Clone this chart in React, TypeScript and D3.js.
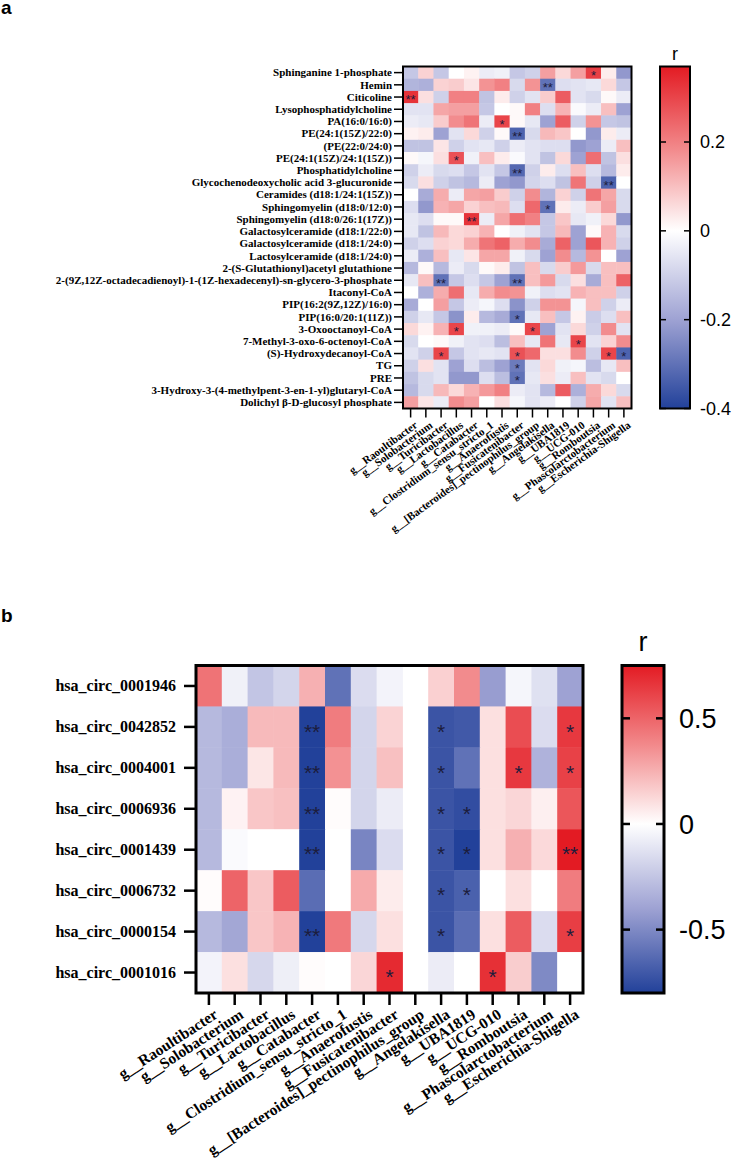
import React from "react";
import * as d3 from "d3";

// ---------- shared column categories (bacterial genera) ----------
const genera = [
  "g__Raoultibacter",
  "g__Solobacterium",
  "g__Turicibacter",
  "g__Lactobacillus",
  "g__Catabacter",
  "g__Clostridium_sensu_stricto_1",
  "g__Anaerofustis",
  "g__Fusicatenibacter",
  "g__[Bacteroides]_pectinophilus_group",
  "g__Angelakisella",
  "g__UBA1819",
  "g__UCG-010",
  "g__Romboutsia",
  "g__Phascolarctobacterium",
  "g__Escherichia-Shigella",
];

// ---------- panel a: metabolites vs genera ----------
const metabolites = [
  "Sphinganine 1-phosphate",
  "Hemin",
  "Citicoline",
  "Lysophosphatidylcholine",
  "PA(16:0/16:0)",
  "PE(24:1(15Z)/22:0)",
  "(PE(22:0/24:0)",
  "PE(24:1(15Z)/24:1(15Z))",
  "Phosphatidylcholine",
  "Glycochenodeoxycholic acid 3-glucuronide",
  "Ceramides (d18:1/24:1(15Z))",
  "Sphingomyelin (d18:0/12:0)",
  "Sphingomyelin (d18:0/26:1(17Z))",
  "Galactosylceramide (d18:1/22:0)",
  "Galactosylceramide (d18:1/24:0)",
  "Lactosylceramide (d18:1/24:0)",
  "2-(S-Glutathionyl)acetyl glutathione",
  "2-(9Z,12Z-octadecadienoyl)-1-(1Z-hexadecenyl)-sn-glycero-3-phosphate",
  "Itaconyl-CoA",
  "PIP(16:2(9Z,12Z)/16:0)",
  "PIP(16:0/20:1(11Z))",
  "3-Oxooctanoyl-CoA",
  "7-Methyl-3-oxo-6-octenoyl-CoA",
  "(S)-Hydroxydecanoyl-CoA",
  "TG",
  "PRE",
  "3-Hydroxy-3-(4-methylpent-3-en-1-yl)glutaryl-CoA",
  "Dolichyl β-D-glucosyl phosphate",
];

const metaboliteR: number[][] = [
  [-0.12, 0.07, -0.12, 0.0, 0.02, -0.04, -0.03, -0.12, -0.1, 0.15, 0.06, 0.15, 0.31, 0.03, -0.22],
  [-0.16, -0.17, 0.07, 0.08, 0.04, 0.17, 0.2, -0.08, 0.17, -0.3, -0.07, -0.06, -0.05, 0.06, -0.12],
  [0.33, 0.05, -0.1, 0.2, 0.2, -0.13, 0.03, -0.1, -0.06, 0.08, 0.26, -0.06, -0.08, 0.01, -0.04],
  [-0.06, -0.06, 0.14, 0.15, 0.15, -0.12, 0.0, 0.01, 0.2, -0.07, 0.12, -0.01, -0.04, 0.1, -0.2],
  [-0.04, -0.05, 0.08, 0.18, 0.22, -0.04, 0.3, 0.01, -0.05, -0.2, 0.26, -0.1, 0.17, -0.12, -0.13],
  [0.02, 0.03, -0.2, -0.06, 0.06, -0.1, 0.01, -0.33, -0.08, 0.11, 0.09, 0.0, -0.22, 0.03, -0.04],
  [-0.13, -0.13, 0.04, -0.1, -0.06, -0.05, -0.1, -0.04, -0.06, -0.07, -0.07, -0.22, -0.2, -0.04, 0.1],
  [0.01, -0.02, 0.05, 0.28, -0.03, 0.1, 0.03, -0.01, -0.06, -0.13, 0.06, -0.2, 0.23, -0.13, 0.05],
  [-0.1, -0.04, -0.08, -0.07, -0.12, -0.06, -0.12, -0.32, -0.1, 0.03, -0.07, 0.1, -0.07, -0.15, 0.03],
  [-0.08, 0.05, -0.1, -0.13, -0.15, -0.04, -0.2, -0.22, -0.09, -0.07, -0.13, 0.22, -0.1, -0.33, 0.0],
  [0.0, -0.18, 0.13, -0.04, 0.14, 0.15, 0.08, -0.1, 0.18, -0.16, 0.07, -0.1, 0.22, 0.14, -0.08],
  [-0.07, -0.22, 0.12, 0.14, 0.07, 0.1, 0.11, -0.07, 0.24, -0.3, 0.03, -0.04, 0.08, 0.15, -0.08],
  [-0.05, -0.07, 0.01, 0.01, 0.33, -0.04, 0.14, 0.23, 0.2, -0.12, 0.09, -0.05, -0.03, 0.06, -0.22],
  [-0.05, -0.13, 0.11, 0.06, 0.07, 0.12, 0.0, -0.03, -0.06, -0.12, 0.11, -0.2, 0.01, 0.12, -0.08],
  [-0.1, -0.07, 0.07, 0.06, 0.13, 0.22, 0.25, 0.13, 0.18, -0.18, 0.25, -0.2, 0.27, 0.12, -0.1],
  [-0.04, -0.17, 0.1, -0.05, 0.04, 0.14, 0.14, -0.03, -0.08, -0.2, 0.18, -0.15, 0.17, 0.0, -0.2],
  [-0.15, 0.01, -0.15, -0.04, -0.08, 0.01, 0.03, -0.13, 0.1, -0.08, 0.08, 0.16, -0.08, 0.1, 0.1],
  [-0.05, 0.1, -0.3, -0.12, -0.07, -0.12, -0.2, -0.3, 0.1, 0.16, -0.08, 0.05, -0.18, 0.1, 0.25],
  [0.0, -0.17, 0.13, 0.23, -0.05, 0.13, 0.18, 0.17, -0.03, -0.07, -0.06, 0.12, 0.1, 0.1, -0.1],
  [-0.18, 0.0, 0.15, -0.12, -0.04, -0.02, -0.07, -0.23, -0.1, 0.17, 0.17, -0.02, 0.1, -0.1, -0.04],
  [-0.1, -0.05, -0.12, -0.23, 0.03, -0.15, -0.18, -0.3, -0.05, 0.1, -0.12, 0.02, -0.11, -0.07, 0.1],
  [0.06, 0.02, 0.12, 0.3, -0.03, -0.03, -0.04, 0.01, 0.3, -0.2, -0.06, 0.06, -0.1, 0.18, -0.06],
  [-0.08, 0.0, 0.01, -0.03, -0.06, -0.07, -0.14, 0.1, -0.05, 0.22, -0.05, 0.3, -0.06, 0.07, 0.18],
  [-0.06, -0.1, 0.3, -0.12, -0.06, -0.05, -0.06, 0.28, 0.24, 0.05, 0.05, 0.18, -0.1, 0.3, -0.33],
  [-0.1, 0.05, -0.06, -0.2, -0.07, -0.14, -0.2, -0.28, -0.06, 0.06, -0.03, -0.02, -0.14, -0.05, 0.1],
  [-0.13, -0.08, -0.06, -0.22, -0.22, -0.07, -0.14, -0.3, -0.05, 0.05, -0.04, 0.1, -0.06, -0.08, 0.0],
  [-0.15, -0.08, 0.11, 0.06, 0.12, 0.16, 0.2, -0.04, -0.06, -0.15, 0.26, -0.17, 0.13, 0.06, -0.08],
  [0.15, 0.04, -0.04, 0.18, 0.15, 0.0, 0.05, -0.02, -0.06, -0.04, 0.0, -0.1, 0.14, -0.06, 0.1],
];

// [row, column, significance mark]
const metaboliteStars: [number, number, string][] = [
  [0, 12, "*"], [1, 9, "**"], [2, 0, "**"], [4, 6, "*"], [5, 7, "**"],
  [7, 3, "*"], [8, 7, "**"], [9, 13, "**"], [11, 9, "*"], [12, 4, "**"],
  [17, 2, "**"], [17, 7, "**"], [20, 7, "*"], [21, 3, "*"], [21, 8, "*"],
  [22, 11, "*"], [23, 2, "*"], [23, 7, "*"], [23, 13, "*"], [23, 14, "*"],
  [24, 7, "*"], [25, 7, "*"],
];

const metaboliteDomain: [number, number] = [-0.4, 0.37];
const metaboliteTicks = [0.2, 0, -0.2, -0.4];

// ---------- panel b: circRNAs vs genera ----------
const circRNAs = [
  "hsa_circ_0001946",
  "hsa_circ_0042852",
  "hsa_circ_0004001",
  "hsa_circ_0006936",
  "hsa_circ_0001439",
  "hsa_circ_0006732",
  "hsa_circ_0000154",
  "hsa_circ_0001016",
];

const circR: (number | null)[][] = [
  [0.45, -0.06, -0.25, -0.18, 0.25, -0.6, -0.15, -0.05, null, 0.15, 0.37, -0.42, -0.04, -0.13, -0.4],
  [-0.3, -0.35, 0.22, 0.22, -0.8, 0.42, -0.18, 0.14, null, -0.72, -0.7, 0.1, 0.58, -0.15, 0.65],
  [-0.3, -0.35, 0.08, 0.22, -0.8, 0.35, -0.18, 0.2, null, -0.72, -0.6, 0.1, 0.65, -0.33, 0.62],
  [-0.3, 0.04, 0.18, 0.2, -0.8, 0.01, -0.18, -0.08, null, -0.72, -0.75, 0.1, 0.13, 0.05, 0.55],
  [-0.3, -0.02, 0.0, 0.0, -0.8, 0.0, -0.52, -0.15, null, -0.72, -0.8, 0.1, 0.25, 0.12, 0.75],
  [0.01, 0.5, 0.18, 0.53, -0.62, 0.0, 0.27, 0.06, null, -0.72, -0.67, 0.0, 0.1, 0.0, 0.42],
  [-0.3, -0.38, 0.18, 0.24, -0.8, 0.43, -0.17, 0.1, null, -0.72, -0.62, 0.1, 0.53, -0.15, 0.63],
  [-0.05, 0.1, -0.17, -0.07, 0.01, 0.0, 0.13, 0.7, null, -0.08, 0.0, 0.68, 0.16, -0.5, 0.0],
];

const circStars: [number, number, string][] = [
  [1, 4, "**"], [1, 9, "*"], [1, 14, "*"],
  [2, 4, "**"], [2, 9, "*"], [2, 12, "*"], [2, 14, "*"],
  [3, 4, "**"], [3, 9, "*"], [3, 10, "*"],
  [4, 4, "**"], [4, 9, "*"], [4, 10, "*"], [4, 14, "**"],
  [5, 9, "*"], [5, 10, "*"],
  [6, 4, "**"], [6, 9, "*"], [6, 14, "*"],
  [7, 7, "*"], [7, 11, "*"],
];

const circDomain: [number, number] = [-0.8, 0.75];
const circTicks = [0.5, 0, -0.5];

// ---------- styling ----------
const BLUE = "#22419a";
const BLUE_MID = "#9ea2d3";
const RED_MID = "#f2898b";
const RED = "#e31b23";
const SERIF = "'Liberation Serif', 'Times New Roman', serif";
const SANS = "'Liberation Sans', Arial, Helvetica, sans-serif";
const STAR_FILL = "#1c1c3c";

function colorScale([lo, hi]: [number, number]) {
  return d3
    .scaleLinear<string>()
    .domain([lo, lo / 2, 0, hi / 2, hi])
    .range([BLUE, BLUE_MID, "#ffffff", RED_MID, RED])
    .interpolate(d3.interpolateRgb)
    .clamp(true);
}

type PanelProps = {
  id: string;
  letter: string;
  letterY: number;
  letterSize: number;
  x: number;
  y: number;
  w: number;
  h: number;
  rows: string[];
  cols: string[];
  values: (number | null)[][];
  stars: [number, number, string][];
  domain: [number, number];
  ticks: number[];
  rowFont: number;
  rowGap: number;
  tickLen: number;
  tickW: number;
  frameW: number;
  colFont: number;
  colAngle: number;
  colDx: number;
  colDy: number;
  starFont: number;
  barX: number;
  barW: number;
  barTick: number;
  barLabelX: number;
  barFont: number;
  rY: number;
  rFont: number;
};

function Panel(p: PanelProps) {
  const xBand = d3.scaleBand<string>().domain(p.cols).range([p.x, p.x + p.w]);
  const yBand = d3.scaleBand<string>().domain(p.rows).range([p.y, p.y + p.h]);
  const color = colorScale(p.domain);
  const barY = d3.scaleLinear().domain([p.domain[1], p.domain[0]]).range([p.y, p.y + p.h]);
  const [lo, hi] = p.domain;
  const stops = [lo, lo / 2, 0, hi / 2, hi].map((v) => ({
    offset: (hi - v) / (hi - lo),
    color: color(v),
  }));
  const bw = xBand.bandwidth();
  const bh = yBand.bandwidth();
  const bottom = p.y + p.h;

  return (
    <g>
      <defs>
        <linearGradient id={`grad-${p.id}`} x1="0" y1="0" x2="0" y2="1">
          {stops
            .slice()
            .sort((a, b) => a.offset - b.offset)
            .map((s, i) => (
              <stop key={i} offset={s.offset} stopColor={s.color} />
            ))}
        </linearGradient>
      </defs>

      <text x={1} y={p.letterY} fontFamily={SANS} fontWeight="bold" fontSize={p.letterSize} fill="#000">
        {p.letter}
      </text>

      {/* cells */}
      {p.values.map((row, ri) =>
        row.map((v, ci) =>
          v === null ? null : (
            <rect
              key={`${ri}-${ci}`}
              x={xBand(p.cols[ci])!}
              y={yBand(p.rows[ri])!}
              width={bw + 0.5}
              height={bh + 0.5}
              fill={color(v)}
            />
          )
        )
      )}

      {/* significance marks */}
      {p.stars.map(([ri, ci, m], i) => (
        <text
          key={i}
          x={xBand(p.cols[ci])! + bw / 2}
          y={yBand(p.rows[ri])! + bh / 2 + p.starFont * 0.56}
          textAnchor="middle"
          fontFamily={SANS}
          fontSize={p.starFont}
          fill={STAR_FILL}
        >
          {m}
        </text>
      ))}

      {/* frame */}
      <rect x={p.x} y={p.y} width={p.w} height={p.h} fill="none" stroke="#000" strokeWidth={p.frameW} />

      {/* row ticks + labels */}
      {p.rows.map((r) => {
        const cy = yBand(r)! + bh / 2;
        return (
          <g key={r}>
            <line x1={p.x - p.tickLen} x2={p.x} y1={cy} y2={cy} stroke="#000" strokeWidth={p.tickW} />
            <text
              x={p.x - p.tickLen - p.rowGap}
              y={cy + p.rowFont * 0.34}
              textAnchor="end"
              fontFamily={SERIF}
              fontWeight="bold"
              fontSize={p.rowFont}
              fill="#000"
            >
              {r}
            </text>
          </g>
        );
      })}

      {/* column ticks + rotated labels */}
      {p.cols.map((c) => {
        const cx = xBand(c)! + bw / 2;
        const ty = bottom + p.tickLen;
        return (
          <g key={c}>
            <line x1={cx} x2={cx} y1={bottom} y2={ty} stroke="#000" strokeWidth={p.tickW} />
            <text
              transform={`translate(${cx + p.colDx},${ty + p.colDy}) rotate(${-p.colAngle})`}
              textAnchor="end"
              dy="0.7em"
              fontFamily={SERIF}
              fontWeight="bold"
              fontSize={p.colFont}
              fill="#000"
            >
              {c}
            </text>
          </g>
        );
      })}

      {/* colour bar */}
      <rect x={p.barX} y={p.y} width={p.barW} height={p.h} fill={`url(#grad-${p.id})`} />
      {p.ticks.map((t) => {
        const ty = barY(t);
        return (
          <g key={t}>
            <line x1={p.barX} x2={p.barX + p.barTick} y1={ty} y2={ty} stroke="#000" strokeWidth={p.tickW} />
            <line
              x1={p.barX + p.barW - p.barTick}
              x2={p.barX + p.barW}
              y1={ty}
              y2={ty}
              stroke="#000"
              strokeWidth={p.tickW}
            />
            <text
              x={p.barLabelX}
              y={ty + p.barFont * 0.36}
              fontFamily={SANS}
              fontSize={p.barFont}
              fill="#000"
            >
              {String(t)}
            </text>
          </g>
        );
      })}
      <rect x={p.barX} y={p.y} width={p.barW} height={p.h} fill="none" stroke="#000" strokeWidth={p.frameW} />
      <text
        x={p.barX + p.barW / 2}
        y={p.rY}
        textAnchor="middle"
        fontFamily={SANS}
        fontSize={p.rFont}
        fill="#000"
      >
        r
      </text>
    </g>
  );
}

export default function App() {
  return (
    <svg
      width={748}
      height={1161}
      viewBox="0 0 748 1161"
      style={{ position: "absolute", left: 0, top: 0, background: "#fff" }}
    >
      <rect width={748} height={1161} fill="#fff" />
      <Panel
        id="a"
        letter="a"
        letterY={14}
        letterSize={19}
        x={403}
        y={66.5}
        w={228.5}
        h={342}
        rows={metabolites}
        cols={genera}
        values={metaboliteR}
        stars={metaboliteStars}
        domain={metaboliteDomain}
        ticks={metaboliteTicks}
        rowFont={11}
        rowGap={2}
        tickLen={9}
        tickW={1.5}
        frameW={2}
        colFont={11}
        colAngle={36}
        colDx={3}
        colDy={3}
        starFont={13}
        barX={660}
        barW={30}
        barTick={6}
        barLabelX={700}
        barFont={18}
        rY={60}
        rFont={18}
      />
      <Panel
        id="b"
        letter="b"
        letterY={622}
        letterSize={19}
        x={196}
        y={665.5}
        w={387}
        h={327.5}
        rows={circRNAs}
        cols={genera}
        values={circR}
        stars={circStars}
        domain={circDomain}
        ticks={circTicks}
        rowFont={16}
        rowGap={8}
        tickLen={12}
        tickW={2.5}
        frameW={3}
        colFont={15.5}
        colAngle={33}
        colDx={4}
        colDy={3}
        starFont={21}
        barX={622}
        barW={42}
        barTick={8}
        barLabelX={679}
        barFont={27}
        rY={651}
        rFont={27}
      />
    </svg>
  );
}
